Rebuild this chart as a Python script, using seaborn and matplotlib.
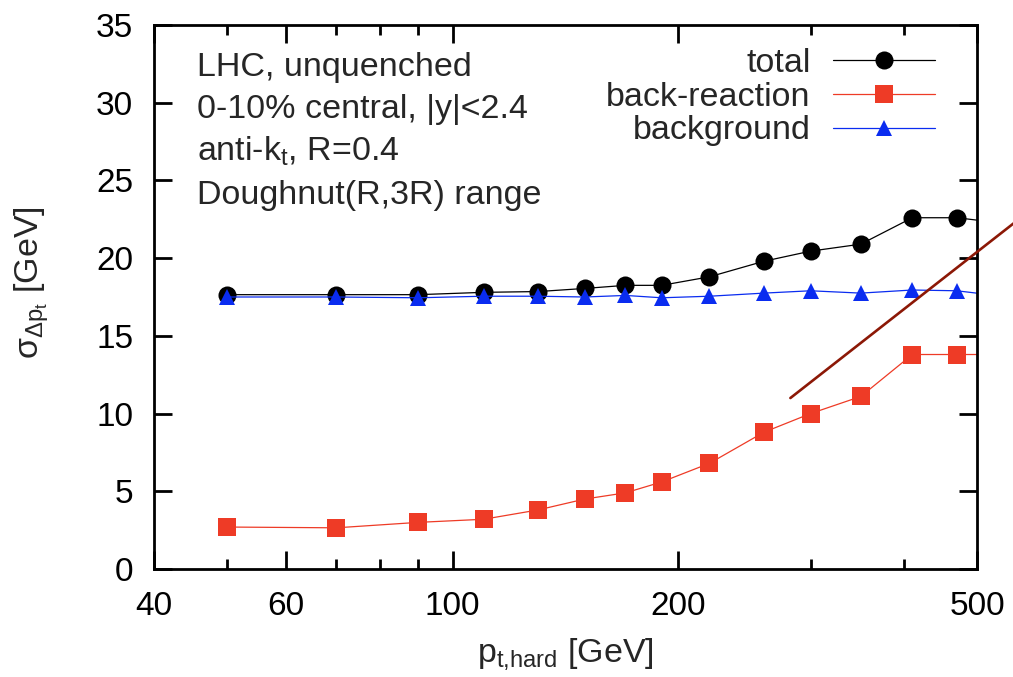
import matplotlib
matplotlib.use("Agg")
import matplotlib.pyplot as plt
import seaborn as sns
import pandas as pd
from matplotlib.ticker import FixedLocator, NullFormatter, FixedFormatter

# ---------------- data ----------------
pt_hard = [50, 70, 90, 110, 130, 150, 170, 190, 220, 260, 300, 350, 410, 470, 530]
total = [17.65, 17.65, 17.65, 17.8, 17.85, 18.05, 18.25, 18.25, 18.8, 19.8, 20.45, 20.9, 22.6, 22.6, 22.3]
back_reaction = [2.7, 2.65, 3.0, 3.2, 3.8, 4.5, 4.9, 5.6, 6.8, 8.8, 10.0, 11.1, 13.8, 13.8, 13.8]
background = [17.5, 17.5, 17.45, 17.55, 17.55, 17.5, 17.6, 17.45, 17.55, 17.75, 17.9, 17.75, 17.95, 17.9, 17.6]

guide_x = [282, 565]
guide_y = [11.0, 22.4]

x_major = [40, 60, 100, 200, 500]
x_minor = [50, 70, 80, 90, 300, 400]
y_ticks = [0, 5, 10, 15, 20, 25, 30, 35]

info_lines = ["LHC, unquenched",
              "0-10% central, |y|<2.4",
              r"anti-k$\mathregular{_t}$, R=0.4",
              "Doughnut(R,3R) range"]

# ---------------- style ----------------
sns.set_style("ticks")
plt.rcParams["font.family"] = ["Liberation Sans", "DejaVu Sans"]
plt.rcParams["mathtext.fontset"] = "custom"
plt.rcParams["mathtext.rm"] = "Liberation Sans"
plt.rcParams["mathtext.it"] = "Liberation Sans:italic"
plt.rcParams["mathtext.sf"] = "Liberation Sans"

fig = plt.figure(figsize=(10.13, 6.77), dpi=100)
ax = fig.add_axes([154 / 1013, 1 - 569 / 677, (977 - 154) / 1013, (569 - 25) / 677])

df = pd.DataFrame({"pt": pt_hard, "total": total,
                   "back": back_reaction, "bg": background})

sns.lineplot(data=df, x="pt", y="total", ax=ax, color="black", lw=0.9,
             marker="o", markersize=13, markeredgewidth=0,
             label="total")
sns.lineplot(data=df, x="pt", y="back", ax=ax, color="#ee3b26", lw=0.9,
             marker="s", markersize=12.5, markeredgewidth=0,
             label="back-reaction")
sns.lineplot(data=df, x="pt", y="bg", ax=ax, color="#0a2cf0", lw=0.9,
             marker="^", markersize=11.5, markeredgewidth=0,
             label="background")

ax.plot(guide_x, guide_y, color="#8c1806", lw=1.9, clip_on=False, zorder=5)

ax.set_xscale("log")
ax.set_xlim(40, 500)
ax.set_ylim(0, 35)

ax.xaxis.set_major_locator(FixedLocator(x_major))
ax.xaxis.set_major_formatter(FixedFormatter([str(v) for v in x_major]))
ax.xaxis.set_minor_locator(FixedLocator(x_minor))
ax.xaxis.set_minor_formatter(NullFormatter())
ax.set_yticks(y_ticks)

for s in ax.spines.values():
    s.set_linewidth(2.0)
    s.set_color("black")

ax.tick_params(which="both", direction="in", top=True, right=True,
               labelsize=24, colors="black")
ax.tick_params(which="major", length=13, width=2.0)
ax.tick_params(which="minor", length=7, width=2.0)
ax.tick_params(axis="x", which="major", pad=16)
ax.tick_params(axis="y", which="major", pad=15)

ax.set_xlabel(r"p$_{\mathregular{t{,}hard}}$ [GeV]", fontsize=24.5)
ax.set_ylabel(r"$\mathregular{σ_{Δp_t}}$ [GeV]", fontsize=24.5)
ax.xaxis.label.set_verticalalignment("center")
ax.yaxis.label.set_verticalalignment("center")
ax.xaxis.set_label_coords(0.5, -(654 - 569) / 544)
ax.yaxis.set_label_coords((32 - 154) / 823, 0.526)

leg = ax.legend(loc="upper right", bbox_to_anchor=(935 / 1013, 1 - 48 / 677),
                bbox_transform=fig.transFigure, frameon=False, fontsize=24.5,
                markerfirst=False, handlelength=3.0, handletextpad=0.66,
                labelspacing=0.08, borderpad=0, borderaxespad=0)

baselines = [76, 118, 161, 204]
for txt, b in zip(info_lines, baselines):
    fig.text(197 / 1013, 1 - b / 677, txt, fontsize=24.5, va="baseline", ha="left")

fig.savefig("out.png", dpi=100)
